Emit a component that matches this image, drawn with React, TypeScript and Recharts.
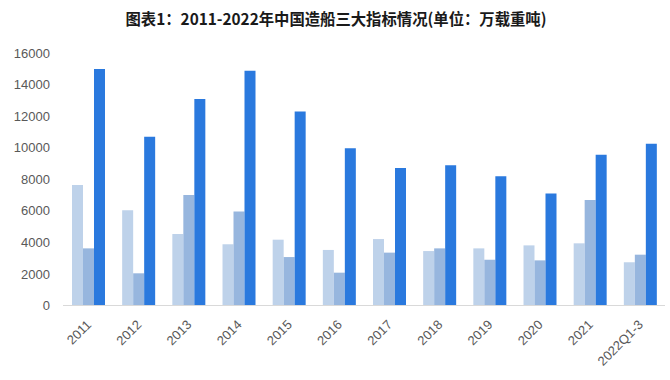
import React from "react";
import { BarChart, Bar, XAxis, YAxis } from "recharts";

const categories = ["2011", "2012", "2013", "2014", "2015", "2016", "2017", "2018", "2019", "2020", "2021", "2022Q1-3"];
const completed = [7640, 6030, 4530, 3880, 4170, 3520, 4210, 3450, 3620, 3810, 3940, 2740];
const newOrders = [3620, 2040, 7000, 5950, 3070, 2080, 3350, 3620, 2900, 2860, 6690, 3220];
const holding = [14990, 10700, 13090, 14880, 12300, 9960, 8710, 8880, 8190, 7090, 9560, 10250];
const yTicks = [0, 2000, 4000, 6000, 8000, 10000, 12000, 14000, 16000];
const seriesNames = ["造船完工量", "新接订单量", "手持订单量"];
const title = "图表1：2011-2022年中国造船三大指标情况(单位：万载重吨)";

const data = categories.map((c, i) => ({
  name: c,
  completed: completed[i],
  newOrders: newOrders[i],
  holding: holding[i],
}));

const XTick = (props: any) => {
  const { x, y, payload } = props;
  const ex = x + 4;
  const ey = y + 20;
  return (
    <text
      x={ex}
      y={ey}
      textAnchor="end"
      transform={`rotate(-45, ${ex}, ${ey})`}
      fill="#595959"
      fontSize={13}
      fontFamily="'Liberation Sans', Arial, sans-serif"
    >
      {payload.value}
    </text>
  );
};

export default function App() {
  return (
    <div style={{ position: "absolute", left: 0, top: 0, width: 670, height: 380, background: "#fff" }}>
      <svg width={670} height={40} style={{ position: "absolute", left: 0, top: 0 }}>
        <text
          x={336}
          y={25}
          textAnchor="middle"
          fontSize={16}
          fontWeight="bold"
          fill="#1a1a1a"
          fontFamily="'Noto Sans CJK SC', sans-serif"
          textLength={421}
          lengthAdjust="spacingAndGlyphs"
        >
          {title}
        </text>
      </svg>
      <div style={{ position: "absolute", left: 0, top: 0 }}>
        <BarChart
          width={670}
          height={380}
          data={data}
          margin={{ top: 53, right: 5, bottom: 0, left: 0 }}
          barGap={0}
          barSize={11}
        >
          <XAxis
            dataKey="name"
            height={74.5}
            tickSize={0}
            tickMargin={0}
            interval={0}
            tick={<XTick />}
            axisLine={{ stroke: "#d9d9d9", strokeWidth: 1 }}
          />
          <YAxis
            width={63}
            domain={[0, 16000]}
            ticks={yTicks}
            interval={0}
            axisLine={false}
            tickLine={false}
            tickSize={0}
            tickMargin={13}
            tick={{ fill: "#595959", fontSize: 13, fontFamily: "'Liberation Sans', Arial, sans-serif" }}
          />
          <Bar dataKey="completed" name={seriesNames[0]} fill="#bed2ea" isAnimationActive={false} />
          <Bar dataKey="newOrders" name={seriesNames[1]} fill="#97b6de" isAnimationActive={false} />
          <Bar dataKey="holding" name={seriesNames[2]} fill="#2a79de" isAnimationActive={false} />
        </BarChart>
      </div>
    </div>
  );
}
